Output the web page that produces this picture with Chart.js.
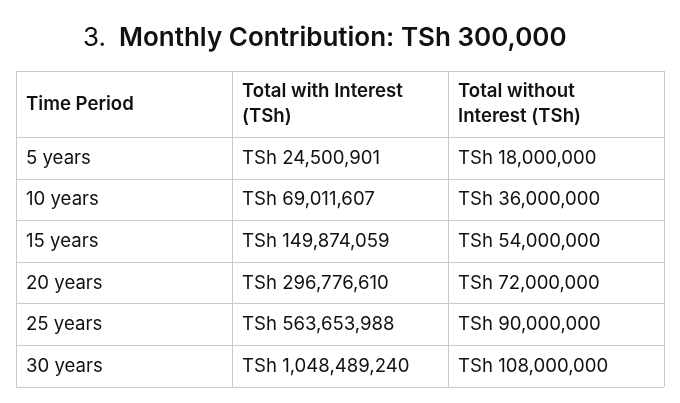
<!DOCTYPE html>
<html>
<head>
<meta charset="utf-8">
<script src="https://cdn.jsdelivr.net/npm/chart.js@4/dist/chart.umd.min.js"></script>
<style>
body{margin:0;background:#fff}
#wrap{width:680px;height:403px}
</style>
</head>
<body>
<div id="wrap"><canvas id="tbl" width="680" height="403"></canvas></div>
<script>
// table data
const titleNum = '3.'
const titleText = 'Monthly Contribution: TSh 300,000'
const headers = [['Time Period'], ['Total with Interest', '(TSh)'], ['Total without', 'Interest (TSh)']]
const periods = ['5 years', '10 years', '15 years', '20 years', '25 years', '30 years']
const withInterest = [24500901, 69011607, 149874059, 296776610, 563653988, 1048489240]
const withoutInterest = [18000000, 36000000, 54000000, 72000000, 90000000, 108000000]

const headerH = 1.6   // header row is taller than the others (in row units)
const fmt = n => 'TSh ' + n.toLocaleString('en-US')

const columns = [
  periods,
  withInterest.map(fmt),
  withoutInterest.map(fmt)
]

// one invisible dataset per column, one point per cell
let datasets = columns.map((col, c) => {
  let pts = [{x: c, y: headerH / 2}]
  let texts = [headers[c]]
  col.forEach((v, i) => {
    pts.push({x: c, y: headerH + i + 0.5})
    texts.push([v])
  })
  return {data: pts, texts: texts, pointRadius: 0, showLine: false}
})

let rowBounds = [0, headerH]
periods.forEach((p, i) => rowBounds.push(headerH + i + 1))

// cell text + title
const cellText = {
  id: 'cellText',
  afterDatasetsDraw(chart) {
    const ctx = chart.ctx
    ctx.save()
    ctx.fillStyle = '#111'
    ctx.textBaseline = 'middle'
    ctx.textAlign = 'left'
    chart.data.datasets.forEach((ds, di) => {
      chart.getDatasetMeta(di).data.forEach((el, i) => {
        let lines = ds.texts[i]
        ctx.font = (i == 0 ? '600 ' : '400 ') + '18.6px Inter'
        let lh = 25
        let y0 = el.y - (lines.length - 1) * lh / 2
        lines.forEach((t, k) => ctx.fillText(t, el.x + 10, y0 + k * lh))
      })
    })
    // title
    ctx.textBaseline = 'alphabetic'
    ctx.font = '400 26px Inter'
    ctx.fillText(titleNum, 83, 46)
    ctx.font = '600 26px Inter'
    ctx.fillText(titleText, 119, 46)
    ctx.restore()
  }
}

new Chart(document.getElementById('tbl'), {
  type: 'scatter',
  data: {datasets: datasets},
  options: {
    responsive: false,
    animation: false,
    events: [],
    layout: {padding: {left: 16, right: 16, top: 71, bottom: 16}},
    plugins: {legend: {display: false}, tooltip: {enabled: false}},
    scales: {
      x: {
        type: 'linear', min: 0, max: columns.length,
        afterBuildTicks: s => { s.ticks = [0, 1, 2, 3].map(v => ({value: v})) },
        ticks: {display: false},
        grid: {color: '#c9c9c9', lineWidth: 1, drawTicks: false},
        border: {display: false}
      },
      y: {
        type: 'linear', reverse: true, min: 0, max: rowBounds[rowBounds.length - 1],
        afterBuildTicks: s => { s.ticks = rowBounds.map(v => ({value: v})) },
        ticks: {display: false},
        grid: {color: '#c9c9c9', lineWidth: 1, drawTicks: false},
        border: {display: false}
      }
    }
  },
  plugins: [cellText]
})
</script>
</body>
</html>
